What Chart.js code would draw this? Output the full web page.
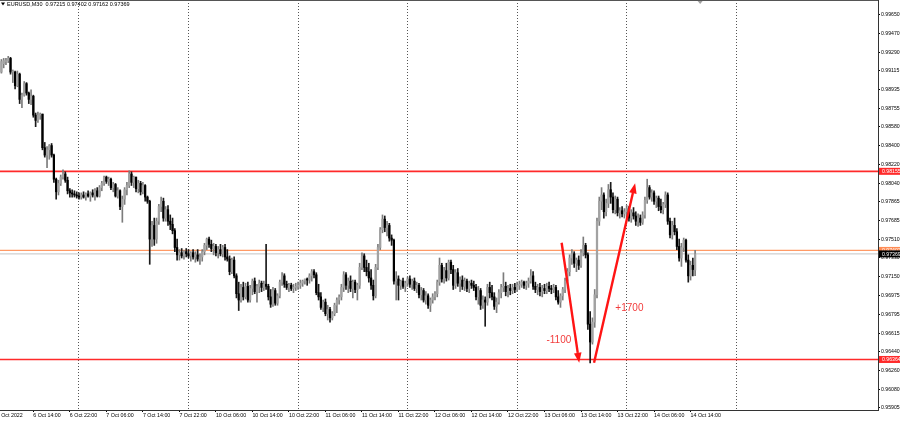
<!DOCTYPE html>
<html><head><meta charset="utf-8">
<script src="https://cdn.jsdelivr.net/npm/chart.js@4.4.1/dist/chart.umd.min.js"></script>
<style>
html,body{margin:0;padding:0;background:#fff;}
#wrap{position:relative;width:900px;height:422px;overflow:hidden;}
</style></head><body>
<div id="wrap"><canvas id="c" width="900" height="422"></canvas></div>
<script>
// ---- DATA (EURUSD, M30, one bar every 30 min from 6 Oct 07:00) ----
const opens=[
0.9910,0.9918,0.9920,0.9921,0.9923,0.9910,0.9910,0.9897,0.9908,0.9884,
0.9888,0.9899,0.9890,0.9884,0.9887,0.9869,0.9864,0.9869,0.9870,0.9838,
0.9831,0.9836,0.9840,0.9831,0.9808,0.9796,0.9804,0.9810,0.9813,0.9807,
0.9797,0.9795,0.9794,0.9793,0.9792,0.9791,0.9793,0.9791,0.9794,0.9792,
0.9795,0.9793,0.9797,0.9792,0.9800,0.9804,0.9810,0.9806,0.9808,0.9800,
0.9803,0.9792,0.9797,0.9782,0.9789,0.9798,0.9802,0.9813,0.9805,0.9810,
0.9799,0.9804,0.9796,0.9802,0.9791,0.9787,0.9751,0.9764,0.9751,0.9768,
0.9782,0.9787,0.9771,0.9779,0.9768,0.9765,0.9759,0.9743,0.9736,0.9738,
0.9735,0.9739,0.9737,0.9735,0.9738,0.9734,0.9736,0.9732,0.9734,0.9739,
0.9745,0.9751,0.9746,0.9742,0.9744,0.9738,0.9741,0.9737,0.9743,0.9734,
0.9732,0.9720,0.9731,0.9716,0.9699,0.9693,0.9705,0.9696,0.9706,0.9693,
0.9704,0.9711,0.9701,0.9706,0.9709,0.9705,0.9708,0.9706,0.9696,0.9689,
0.9702,0.9690,0.9697,0.9710,0.9716,0.9708,0.9705,0.9707,0.9704,0.9705,
0.9706,0.9707,0.9709,0.9711,0.9713,0.9712,0.9716,0.9720,0.9717,0.9700,
0.9696,0.9686,0.9691,0.9680,0.9684,0.9676,0.9680,0.9688,0.9693,0.9696,
0.9705,0.9717,0.9707,0.9711,0.9704,0.9710,0.9703,0.9707,0.9724,0.9735,
0.9724,0.9720,0.9714,0.9707,0.9697,0.9724,0.9743,0.9760,0.9770,0.9762,
0.9764,0.9752,0.9750,0.9711,0.9713,0.9707,0.9711,0.9706,0.9709,0.9713,
0.9708,0.9711,0.9704,0.9707,0.9698,0.9702,0.9693,0.9697,0.9688,0.9693,
0.9696,0.9699,0.9710,0.9726,0.9713,0.9721,0.9714,0.9729,0.9722,0.9707,
0.9719,0.9709,0.9712,0.9706,0.9711,0.9704,0.9709,0.9707,0.9705,0.9696,
0.9702,0.9688,0.9693,0.9691,0.9705,0.9700,0.9696,0.9687,0.9691,0.9700,
0.9705,0.9706,0.9701,0.9704,0.9702,0.9705,0.9703,0.9707,0.9708,0.9710,
0.9707,0.9709,0.9711,0.9716,0.9706,0.9703,0.9705,0.9701,0.9704,0.9702,
0.9706,0.9704,0.9703,0.9705,0.9696,0.9691,0.9697,0.9703,0.9711,0.9720,
0.9733,0.9737,0.9728,0.9731,0.9726,0.9738,0.9745,0.9736,0.9670,0.9653,
0.9672,0.9698,0.9768,0.9787,0.9793,0.9777,0.9785,0.9798,0.9791,0.9779,
0.9789,0.9776,0.9778,0.9775,0.9777,0.9780,0.9771,0.9776,0.9773,0.9768,
0.9771,0.9767,0.9774,0.9788,0.9800,0.9791,0.9795,0.9787,0.9790,0.9782,
0.9779,0.9784,0.9793,0.9768,0.9755,0.9764,0.9758,0.9744,0.9733,0.9743,
0.9750,0.9731,0.9716,0.9726,0.97215];
const highs=[
0.9922,0.9923,0.9923,0.9925,0.9924,0.9912,0.9911,0.9911,0.9909,0.9890,
0.9901,0.9900,0.9891,0.9893,0.9888,0.9871,0.9872,0.9871,0.9870,0.9843,
0.9839,0.9841,0.9842,0.9832,0.9809,0.9807,0.9812,0.9817,0.9815,0.9810,
0.9799,0.9798,0.9797,0.9796,0.9795,0.9795,0.9796,0.9795,0.9797,0.9796,
0.9798,0.9799,0.9800,0.9802,0.9806,0.9811,0.9811,0.9810,0.9809,0.9805,
0.9804,0.9800,0.9798,0.9792,0.9800,0.9805,0.9816,0.9815,0.9811,0.9810,
0.9807,0.9806,0.9805,0.9803,0.9792,0.9788,0.9768,0.9771,0.9771,0.9784,
0.9791,0.9790,0.9782,0.9783,0.9774,0.9771,0.9761,0.9751,0.9741,0.9742,
0.9740,0.9742,0.9741,0.9739,0.9741,0.9739,0.9741,0.9737,0.9741,0.9747,
0.9752,0.9753,0.9750,0.9747,0.9746,0.9744,0.9746,0.9745,0.9746,0.9741,
0.9735,0.9733,0.9734,0.9718,0.9710,0.9708,0.9710,0.9709,0.9710,0.9707,
0.9713,0.9714,0.9708,0.9712,0.9711,0.9711,0.9746,0.9708,0.9703,0.9705,
0.9704,0.9699,0.9712,0.9719,0.9718,0.9711,0.9709,0.9709,0.9708,0.9709,
0.9710,0.9712,0.9712,0.9713,0.9714,0.9718,0.9722,0.9722,0.9719,0.9708,
0.9700,0.9693,0.9694,0.9688,0.9686,0.9682,0.9690,0.9695,0.9698,0.9708,
0.9720,0.9719,0.9714,0.9716,0.9712,0.9712,0.9709,0.9728,0.9738,0.9737,
0.9731,0.9728,0.9722,0.9712,0.9727,0.9746,0.9762,0.9774,0.9773,0.9768,
0.9766,0.9755,0.9751,0.9720,0.9716,0.9712,0.9714,0.9711,0.9715,0.9716,
0.9713,0.9714,0.9710,0.9709,0.9705,0.9704,0.9701,0.9699,0.9695,0.9699,
0.9701,0.9712,0.9733,0.9728,0.9724,0.9728,0.9731,0.9731,0.9726,0.9722,
0.9723,0.9715,0.9716,0.9714,0.9713,0.9711,0.9712,0.9711,0.9708,0.9706,
0.9704,0.9697,0.9696,0.9708,0.9710,0.9707,0.9700,0.9695,0.9703,0.9708,
0.9719,0.9710,0.9707,0.9708,0.9708,0.9709,0.9710,0.9711,0.9712,0.9711,
0.9711,0.9714,0.9722,0.9720,0.9710,0.9708,0.9709,0.9707,0.9708,0.9709,
0.9710,0.9707,0.9708,0.9707,0.9702,0.9699,0.9705,0.9714,0.9723,0.9736,
0.9741,0.9739,0.9733,0.9735,0.9741,0.9753,0.9747,0.9738,0.9682,0.9676,
0.9703,0.9771,0.9791,0.9800,0.9795,0.9789,0.9803,0.9805,0.9795,0.9792,
0.9791,0.9781,0.9782,0.9780,0.9783,0.9782,0.9779,0.9781,0.9777,0.9775,
0.9774,0.9777,0.9791,0.9808,0.9802,0.9798,0.9797,0.9792,0.9792,0.9789,
0.9786,0.9796,0.9795,0.9771,0.9768,0.9771,0.9761,0.9751,0.9747,0.9752,
0.9751,0.9736,0.9730,0.9733,0.97402];
const lows=[
0.9909,0.9914,0.9917,0.9919,0.9908,0.9900,0.9894,0.9896,0.9880,0.9876,
0.9887,0.9888,0.9880,0.9879,0.9867,0.9858,0.9862,0.9865,0.9836,0.9829,
0.9819,0.9827,0.9829,0.9805,0.9789,0.9793,0.9802,0.9808,0.9805,0.9794,
0.9791,0.9791,0.9791,0.9790,0.9789,0.9789,0.9790,0.9788,0.9791,0.9787,
0.9791,0.9788,0.9791,0.9791,0.9797,0.9802,0.9804,0.9802,0.9798,0.9796,
0.9791,0.9790,0.9779,0.9767,0.9784,0.9793,0.9800,0.9802,0.9800,0.9796,
0.9795,0.9793,0.9794,0.9787,0.9785,0.9727,0.9744,0.9745,0.9747,0.9765,
0.9777,0.9768,0.9768,0.9764,0.9760,0.9756,0.9739,0.9731,0.9731,0.9733,
0.9732,0.9734,0.9733,0.9730,0.9732,0.9729,0.9730,0.9727,0.9730,0.9736,
0.9741,0.9743,0.9739,0.9736,0.9735,0.9733,0.9735,0.9734,0.9731,0.9730,
0.9717,0.9718,0.9714,0.9695,0.9683,0.9691,0.9693,0.9694,0.9691,0.9691,
0.9698,0.9699,0.9691,0.9700,0.9701,0.9702,0.9703,0.9693,0.9686,0.9687,
0.9688,0.9688,0.9695,0.9707,0.9705,0.9703,0.9701,0.9702,0.9700,0.9702,
0.9703,0.9704,0.9706,0.9708,0.9707,0.9709,0.9711,0.9714,0.9698,0.9693,
0.9684,0.9682,0.9678,0.9674,0.9672,0.9674,0.9678,0.9681,0.9689,0.9693,
0.9701,0.9703,0.9700,0.9701,0.9695,0.9700,0.9693,0.9704,0.9722,0.9720,
0.9716,0.9710,0.9703,0.9693,0.9695,0.9722,0.9741,0.9757,0.9758,0.9754,
0.9749,0.9745,0.9708,0.9693,0.9693,0.9703,0.9704,0.9701,0.9706,0.9705,
0.9703,0.9702,0.9700,0.9695,0.9693,0.9691,0.9689,0.9685,0.9682,0.9690,
0.9693,0.9696,0.9707,0.9710,0.9709,0.9711,0.9712,0.9718,0.9703,0.9704,
0.9706,0.9701,0.9703,0.9702,0.9701,0.9700,0.9704,0.9702,0.9693,0.9689,
0.9684,0.9685,0.9668,0.9688,0.9695,0.9693,0.9684,0.9681,0.9689,0.9695,
0.9701,0.9697,0.9696,0.9698,0.9699,0.9700,0.9701,0.9703,0.9705,0.9704,
0.9703,0.9705,0.9709,0.9703,0.9700,0.9698,0.9697,0.9696,0.9699,0.9699,
0.9701,0.9699,0.9700,0.9693,0.9689,0.9686,0.9693,0.9700,0.9709,0.9716,
0.9727,0.9724,0.9720,0.9722,0.9724,0.9735,0.9733,0.9665,0.9633,0.9651,
0.9667,0.9695,0.9764,0.9779,0.9771,0.9773,0.9781,0.9785,0.9776,0.9775,
0.9773,0.9771,0.9772,0.9771,0.9773,0.9768,0.9767,0.9770,0.9764,0.9763,
0.9764,0.9765,0.9771,0.9785,0.9789,0.9787,0.9784,0.9781,0.9778,0.9776,
0.9775,0.9781,0.9765,0.9752,0.9751,0.9755,0.9741,0.9730,0.9725,0.9739,
0.9729,0.9710,0.9712,0.9716,0.97162];
const closes=[
0.9920,0.9921,0.9921,0.9923,0.9910,0.9911,0.9897,0.9908,0.9884,0.9888,
0.9899,0.9890,0.9884,0.9887,0.9869,0.9864,0.9869,0.9870,0.9838,0.9831,
0.9836,0.9840,0.9831,0.9808,0.9796,0.9804,0.9810,0.9813,0.9807,0.9797,
0.9795,0.9794,0.9793,0.9792,0.9791,0.9793,0.9791,0.9794,0.9792,0.9795,
0.9793,0.9797,0.9792,0.9800,0.9804,0.9810,0.9806,0.9808,0.9800,0.9803,
0.9792,0.9797,0.9782,0.9789,0.9798,0.9802,0.9813,0.9805,0.9810,0.9799,
0.9804,0.9796,0.9802,0.9791,0.9787,0.9751,0.9764,0.9751,0.9768,0.9782,
0.9787,0.9771,0.9779,0.9768,0.9765,0.9759,0.9743,0.9736,0.9738,0.9735,
0.9739,0.9737,0.9735,0.9738,0.9734,0.9736,0.9732,0.9734,0.9739,0.9745,
0.9751,0.9746,0.9742,0.9744,0.9738,0.9741,0.9737,0.9743,0.9734,0.9732,
0.9720,0.9731,0.9716,0.9699,0.9693,0.9705,0.9696,0.9706,0.9693,0.9704,
0.9711,0.9701,0.9706,0.9709,0.9705,0.9708,0.9706,0.9696,0.9689,0.9702,
0.9690,0.9697,0.9710,0.9716,0.9708,0.9705,0.9707,0.9704,0.9705,0.9706,
0.9707,0.9709,0.9711,0.9713,0.9712,0.9716,0.9720,0.9717,0.9700,0.9696,
0.9686,0.9691,0.9680,0.9684,0.9676,0.9680,0.9688,0.9693,0.9696,0.9705,
0.9717,0.9707,0.9711,0.9704,0.9710,0.9703,0.9707,0.9724,0.9735,0.9724,
0.9720,0.9714,0.9707,0.9697,0.9724,0.9743,0.9760,0.9770,0.9762,0.9764,
0.9752,0.9750,0.9711,0.9713,0.9707,0.9711,0.9706,0.9709,0.9713,0.9708,
0.9711,0.9704,0.9707,0.9698,0.9702,0.9693,0.9697,0.9688,0.9693,0.9696,
0.9699,0.9710,0.9726,0.9713,0.9721,0.9714,0.9729,0.9722,0.9707,0.9719,
0.9709,0.9712,0.9706,0.9711,0.9704,0.9709,0.9707,0.9705,0.9696,0.9702,
0.9688,0.9693,0.9691,0.9705,0.9700,0.9696,0.9687,0.9691,0.9700,0.9705,
0.9706,0.9701,0.9704,0.9702,0.9705,0.9703,0.9707,0.9708,0.9710,0.9707,
0.9709,0.9711,0.9716,0.9706,0.9703,0.9705,0.9701,0.9704,0.9702,0.9706,
0.9704,0.9703,0.9705,0.9696,0.9691,0.9697,0.9703,0.9711,0.9720,0.9733,
0.9737,0.9728,0.9731,0.9726,0.9738,0.9745,0.9736,0.9670,0.9653,0.9672,
0.9698,0.9768,0.9787,0.9793,0.9777,0.9785,0.9798,0.9791,0.9779,0.9789,
0.9776,0.9778,0.9775,0.9777,0.9780,0.9771,0.9776,0.9773,0.9768,0.9771,
0.9767,0.9774,0.9788,0.9800,0.9791,0.9795,0.9787,0.9790,0.9782,0.9779,
0.9784,0.9793,0.9768,0.9755,0.9764,0.9758,0.9744,0.9733,0.9743,0.9750,
0.9731,0.9716,0.9726,0.9722,0.97369];

// x tick labels and the bar index at which each one sits
const xTickLabels=['6 Oct 2022','6 Oct 14:00','6 Oct 22:00','7 Oct 06:00','7 Oct 14:00','7 Oct 22:00',
 '10 Oct 06:00','10 Oct 14:00','10 Oct 22:00','11 Oct 06:00','11 Oct 14:00','11 Oct 22:00',
 '12 Oct 06:00','12 Oct 14:00','12 Oct 22:00','13 Oct 06:00','13 Oct 14:00','13 Oct 22:00',
 '14 Oct 06:00','14 Oct 14:00'];
const xTickBars=[-2,14,30,46,62,78,94,110,126,142,158,174,190,206,222,238,254,270,286,302];
// bars where a new trading day starts (dotted separators)
const dayStartBars=[34,82,130,178,226,274,322];
// chart-shift marker bar
const shiftBar=306.2;
// price axis labels
const yTickValues=[0.99650,0.99470,0.99290,0.99115,0.98935,0.98755,0.98580,0.98400,0.98220,0.98040,
 0.97865,0.97685,0.97510,0.97330,0.97150,0.96975,0.96795,0.96615,0.96440,0.96260,0.96080,0.95905];
// horizontal levels
const levelPrices=[0.98155,0.97402,0.97369,0.96364];
const levelKinds=['red','orange','bid','red'];
// annotations (bar index, price)
const arrowFrom=[[245.5,0.97475],[259.7,0.96333]];
const arrowTo=[[253.2,0.96333],[277.7,0.98041]];
const noteText=['-1100','+1700'];
const noteAt=[[244.3,0.96549],[275.2,0.96854]];
const headerText='EURUSD,M30  0.97215 0.97402 0.97162 0.97369';

// ---- view range ----
const xMin=-0.6135, xMax=384.14, yMin=0.95883, yMax=0.99786;

const FONT="'Liberation Sans', Arial, sans-serif";
Chart.defaults.font.family=FONT;

const idx=opens.map((_,i)=>i);
const bull=idx.map(i=>closes[i]>=opens[i]);
const wickData=idx.map(i=>({x:i,y:[Math.min(lows[i],opens[i],closes[i]),Math.max(highs[i],opens[i],closes[i])]}));
const bodyData=idx.map(i=>({x:i,y:[Math.min(opens[i],closes[i]),Math.max(opens[i],closes[i])]}));

const levelStyle={red:{color:'#ff2a2a',width:1.6,tag:'#ff2a2a',text:'#fff'},
  orange:{color:'#ff9a66',width:1.2,tag:'#ff8c55',text:'#fff'},
  bid:{color:'#c4c4c4',width:1,tag:'#000',text:'#fff'}};

function noPad(s){s.paddingLeft=0;s.paddingRight=0;s.paddingTop=0;s.paddingBottom=0;}

const overlay={
  id:'overlay',
  beforeDatasetsDraw(chart){
    const {ctx,chartArea:a,scales:{y}}=chart;
    ctx.save();
    levelPrices.forEach((p,k)=>{
      const st=levelStyle[levelKinds[k]];
      const py=y.getPixelForValue(p);
      ctx.strokeStyle=st.color;ctx.lineWidth=st.width;
      ctx.beginPath();ctx.moveTo(a.left,py);ctx.lineTo(a.right,py);ctx.stroke();
    });
    ctx.restore();
  },
  afterDatasetsDraw(chart){
    const {ctx,scales:{x,y}}=chart;
    ctx.save();
    ctx.strokeStyle='#ff1414';ctx.fillStyle='#ff1414';ctx.lineWidth=2.4;ctx.lineCap='butt';
    arrowFrom.forEach((f,k)=>{
      const x1=x.getPixelForValue(f[0]),y1=y.getPixelForValue(f[1]);
      const x2=x.getPixelForValue(arrowTo[k][0]),y2=y.getPixelForValue(arrowTo[k][1]);
      const ang=Math.atan2(y2-y1,x2-x1),hl=10,hw=3.8;
      const bx=x2-hl*Math.cos(ang),by=y2-hl*Math.sin(ang);
      ctx.beginPath();ctx.moveTo(x1,y1);ctx.lineTo(bx,by);ctx.stroke();
      ctx.beginPath();ctx.moveTo(x2,y2);
      ctx.lineTo(bx+hw*Math.sin(ang),by-hw*Math.cos(ang));
      ctx.lineTo(bx-hw*Math.sin(ang),by+hw*Math.cos(ang));
      ctx.closePath();ctx.fill();
    });
    ctx.fillStyle='#f23c3c';ctx.font='10px '+FONT;ctx.textAlign='center';ctx.textBaseline='middle';
    noteText.forEach((t,k)=>{
      ctx.fillText(t,x.getPixelForValue(noteAt[k][0]),y.getPixelForValue(noteAt[k][1]));
    });
    ctx.restore();
  },
  afterDraw(chart){
    const {ctx,chartArea:a,scales:{x,y}}=chart;
    ctx.save();
    ctx.strokeStyle='#555';ctx.lineWidth=1;
    ctx.beginPath();ctx.moveTo(0,a.top+0.5);ctx.lineTo(a.right,a.top+0.5);ctx.stroke();
    // chart shift marker
    const sx=x.getPixelForValue(shiftBar);
    ctx.fillStyle='#a0a0a0';
    ctx.beginPath();ctx.moveTo(sx-2.5,a.top+1);ctx.lineTo(sx+2.5,a.top+1);ctx.lineTo(sx,a.top+4);ctx.closePath();ctx.fill();
    ctx.font='5.2px '+FONT;ctx.textBaseline='middle';ctx.textAlign='left';
    [1,2,0,3].forEach(k=>{
      const st=levelStyle[levelKinds[k]];
      const py=y.getPixelForValue(levelPrices[k]);
      ctx.fillStyle=st.tag;ctx.fillRect(a.right+1,py-3.5,chart.width-a.right-1,7);
      ctx.fillStyle=st.text;ctx.fillText(levelPrices[k].toFixed(5),a.right+4,py+0.3);
    });
    ctx.fillStyle='#000';
    ctx.beginPath();ctx.moveTo(1,2.5);ctx.lineTo(5,2.5);ctx.lineTo(3,5.5);ctx.closePath();ctx.fill();
    ctx.font='5.5px '+FONT;ctx.fillText(headerText,7,4.2);
    ctx.restore();
  }
};

new Chart(document.getElementById('c'),{
  type:'bar',
  data:{datasets:[
    {label:'body',data:bodyData,barThickness:1.6,minBarLength:1,grouped:false,order:0,
     backgroundColor:bull.map(b=>b?'#a2a2a2':'#000'),borderWidth:0,xAxisID:'x',yAxisID:'y'},
    {label:'wick',data:wickData,barThickness:1,grouped:false,order:1,
     backgroundColor:bull.map(b=>b?'#7c7c7c':'#1a1a1a'),borderWidth:0,xAxisID:'x',yAxisID:'y'}
  ]},
  options:{
    responsive:false,animation:false,devicePixelRatio:1,
    layout:{padding:0},
    plugins:{legend:{display:false},tooltip:{enabled:false}},
    scales:{
      x:{type:'linear',position:'bottom',min:xMin,max:xMax,offset:false,
        afterBuildTicks:s=>{s.ticks=xTickBars.map(v=>({value:v}));},
        afterFit:s=>{s.height=12;noPad(s);},
        ticks:{callback:(v,i)=>xTickLabels[i],align:'start',maxRotation:0,minRotation:0,autoSkip:false,
               font:{size:5.3},color:'#000',padding:0},
        grid:{offset:false,drawOnChartArea:false,drawTicks:true,tickLength:2,color:'#000'},
        border:{display:true,color:'#333',width:1}},
      xDay:{type:'linear',position:'bottom',min:xMin,max:xMax,offset:false,
        afterBuildTicks:s=>{s.ticks=dayStartBars.map(v=>({value:v}));},
        afterFit:s=>{s.height=0;noPad(s);},
        ticks:{display:false},
        grid:{offset:false,drawOnChartArea:true,drawTicks:false,color:'#555',lineWidth:1},
        border:{display:false,dash:[1,2]}},
      y:{type:'linear',position:'right',min:yMin,max:yMax,
        afterBuildTicks:s=>{s.ticks=yTickValues.map(v=>({value:v}));},
        afterFit:s=>{s.width=22;noPad(s);},
        ticks:{callback:v=>Number(v).toFixed(5),autoSkip:false,font:{size:5.2},color:'#000',padding:1},
        grid:{drawOnChartArea:false,drawTicks:true,tickLength:2,color:'#000'},
        border:{display:true,color:'#333',width:1}}
    }
  },
  plugins:[overlay]
});
</script>
</body></html>
